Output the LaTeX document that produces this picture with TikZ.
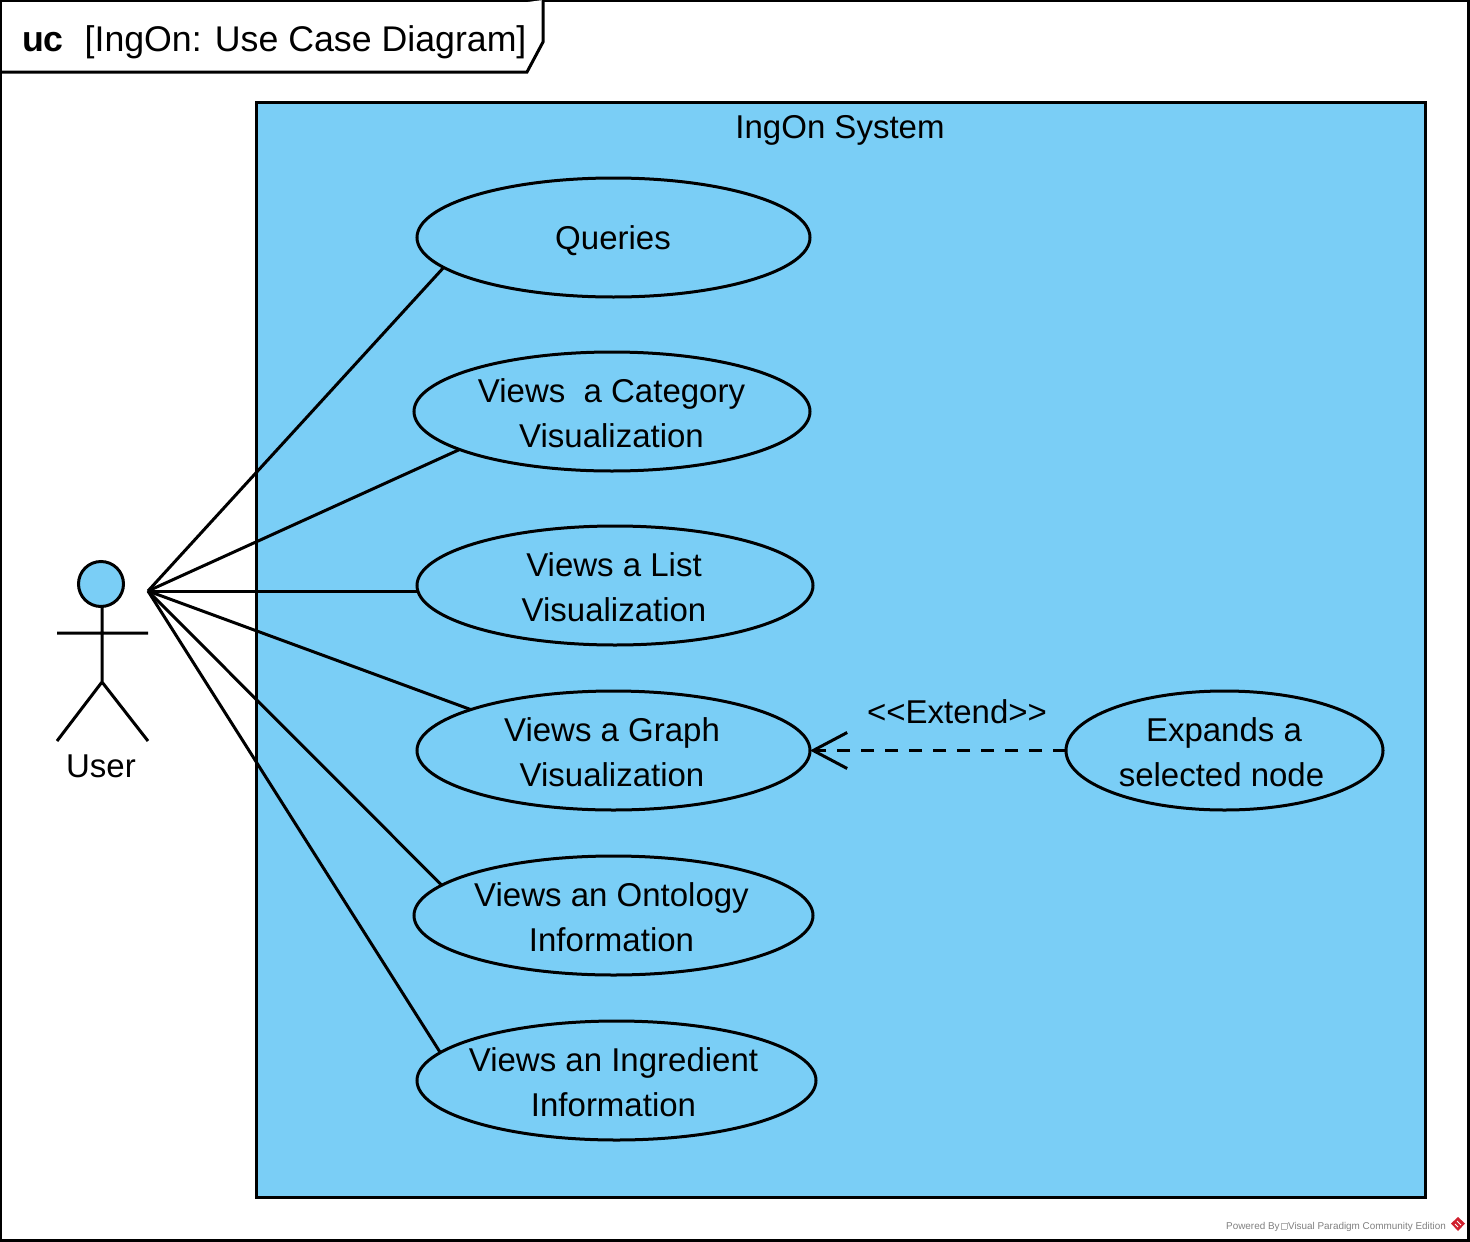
\documentclass[tikz,border=0pt]{standalone}
\usepackage{fontspec}
\setmainfont{Liberation Sans}
\usetikzlibrary{shapes.geometric,arrows.meta}
\definecolor{sysblue}{HTML}{7ACEF6}
\definecolor{vpred}{HTML}{D0202E}
\tikzset{
  line/.style={line width=3pt,draw=black},
  uc/.style={ellipse,line,inner sep=0pt,outer sep=0pt,minimum height=119pt},
  plain/.style={inner sep=0pt,outer sep=0pt,align=center,font=\fontsize{33}{45}\selectfont},
  assoc/.style={line},
  extend/.style={line,dash pattern=on 13pt off 11pt,-{Straight Barb[length=34pt,width=36pt,line width=3pt]}}
}
\begin{document}
\begin{tikzpicture}[x=1pt,y=-1pt]
\useasboundingbox (0,0) rectangle (1470,1242);
\draw[line,fill=white] (0,0) rectangle (1468,1240);
\draw[line,fill=white] (0,72) -- (527,72) -- (543,42) -- (543,0);
\node[plain,anchor=base west,font=\fontsize{35.7}{45}\selectfont] (title) at (22,51) {\textbf{uc}\hspace{21pt}[IngOn: Use Case Diagram]};
\draw[line,fill=sysblue] (256,102) rectangle (1425,1197);
\node[plain] (sys) at (840,130) {IngOn System};
\node[uc,minimum width=393pt] (q) at (613.5,237.5) {};
\node[uc,minimum width=396pt] (c) at (612,411.5) {};
\node[uc,minimum width=396pt] (l) at (615,585.5) {};
\node[uc,minimum width=393pt] (g) at (613.5,750.5) {};
\node[uc,minimum width=399pt] (o) at (613.5,915.5) {};
\node[uc,minimum width=399pt] (i) at (616.5,1080.5) {};
\node[uc,minimum width=317pt] (e) at (1224.5,750.5) {};
\node[plain] (qt) at (613,240.5) {Queries};
\node[plain] (ct) at (611.5,413.5) {Views\ \ a Category\\Visualization};
\node[plain] (lt) at (614,587.5) {Views a List\\Visualization};
\node[plain] (gt) at (612,752.5) {Views a Graph\\Visualization};
\node[plain] (ot) at (611.5,917.5) {Views an Ontology\\Information};
\node[plain] (it) at (613.5,1082.5) {Views an Ingredient\\Information};
\node[plain] (et) at (1221.5,752.5) {\hspace*{5pt}Expands a\\selected node};
\coordinate (a) at (148,591);
\draw[assoc] (a) -- (q.190.3);
\draw[assoc] (a) -- (c.194.6);
\draw[assoc] (a) -- (a -| l.west);
\draw[assoc] (a) -- (g.164.4);
\draw[assoc] (a) -- (o.170.3);
\draw[assoc] (a) -- (i.171.6);
\draw[extend] (e.west) -- (g.east);
\node[plain] (ext) at (957,712) {<{}<Extend>{}>};
\draw[line,fill=sysblue] (101,584) circle (22.5);
\draw[line] (102,606) -- (102,682) (57,633) -- (148,633) (57,741) -- (102,682) -- (148,741);
\node[plain] (user) at (101,766) {User};
\node[inner sep=0pt,anchor=base west,text=gray,font=\fontsize{9.9}{10}\selectfont] (wm) at (1226,1229) {Powered By\hspace{1.5pt}\textcolor{gray!60}{\setlength{\fboxsep}{0pt}\setlength{\fboxrule}{0.5pt}\fbox{\phantom{\rule{5pt}{6pt}}}}\hspace{1pt}Visual Paradigm Community Edition};
\fill[vpred] (1458,1217) -- (1465,1223.5) -- (1458,1231) -- (1451,1223.5) -- cycle;
\draw[white,line width=0.8pt] (1455,1224) -- (1458,1227) (1457,1221) -- (1461,1225);
\end{tikzpicture}
\end{document}
